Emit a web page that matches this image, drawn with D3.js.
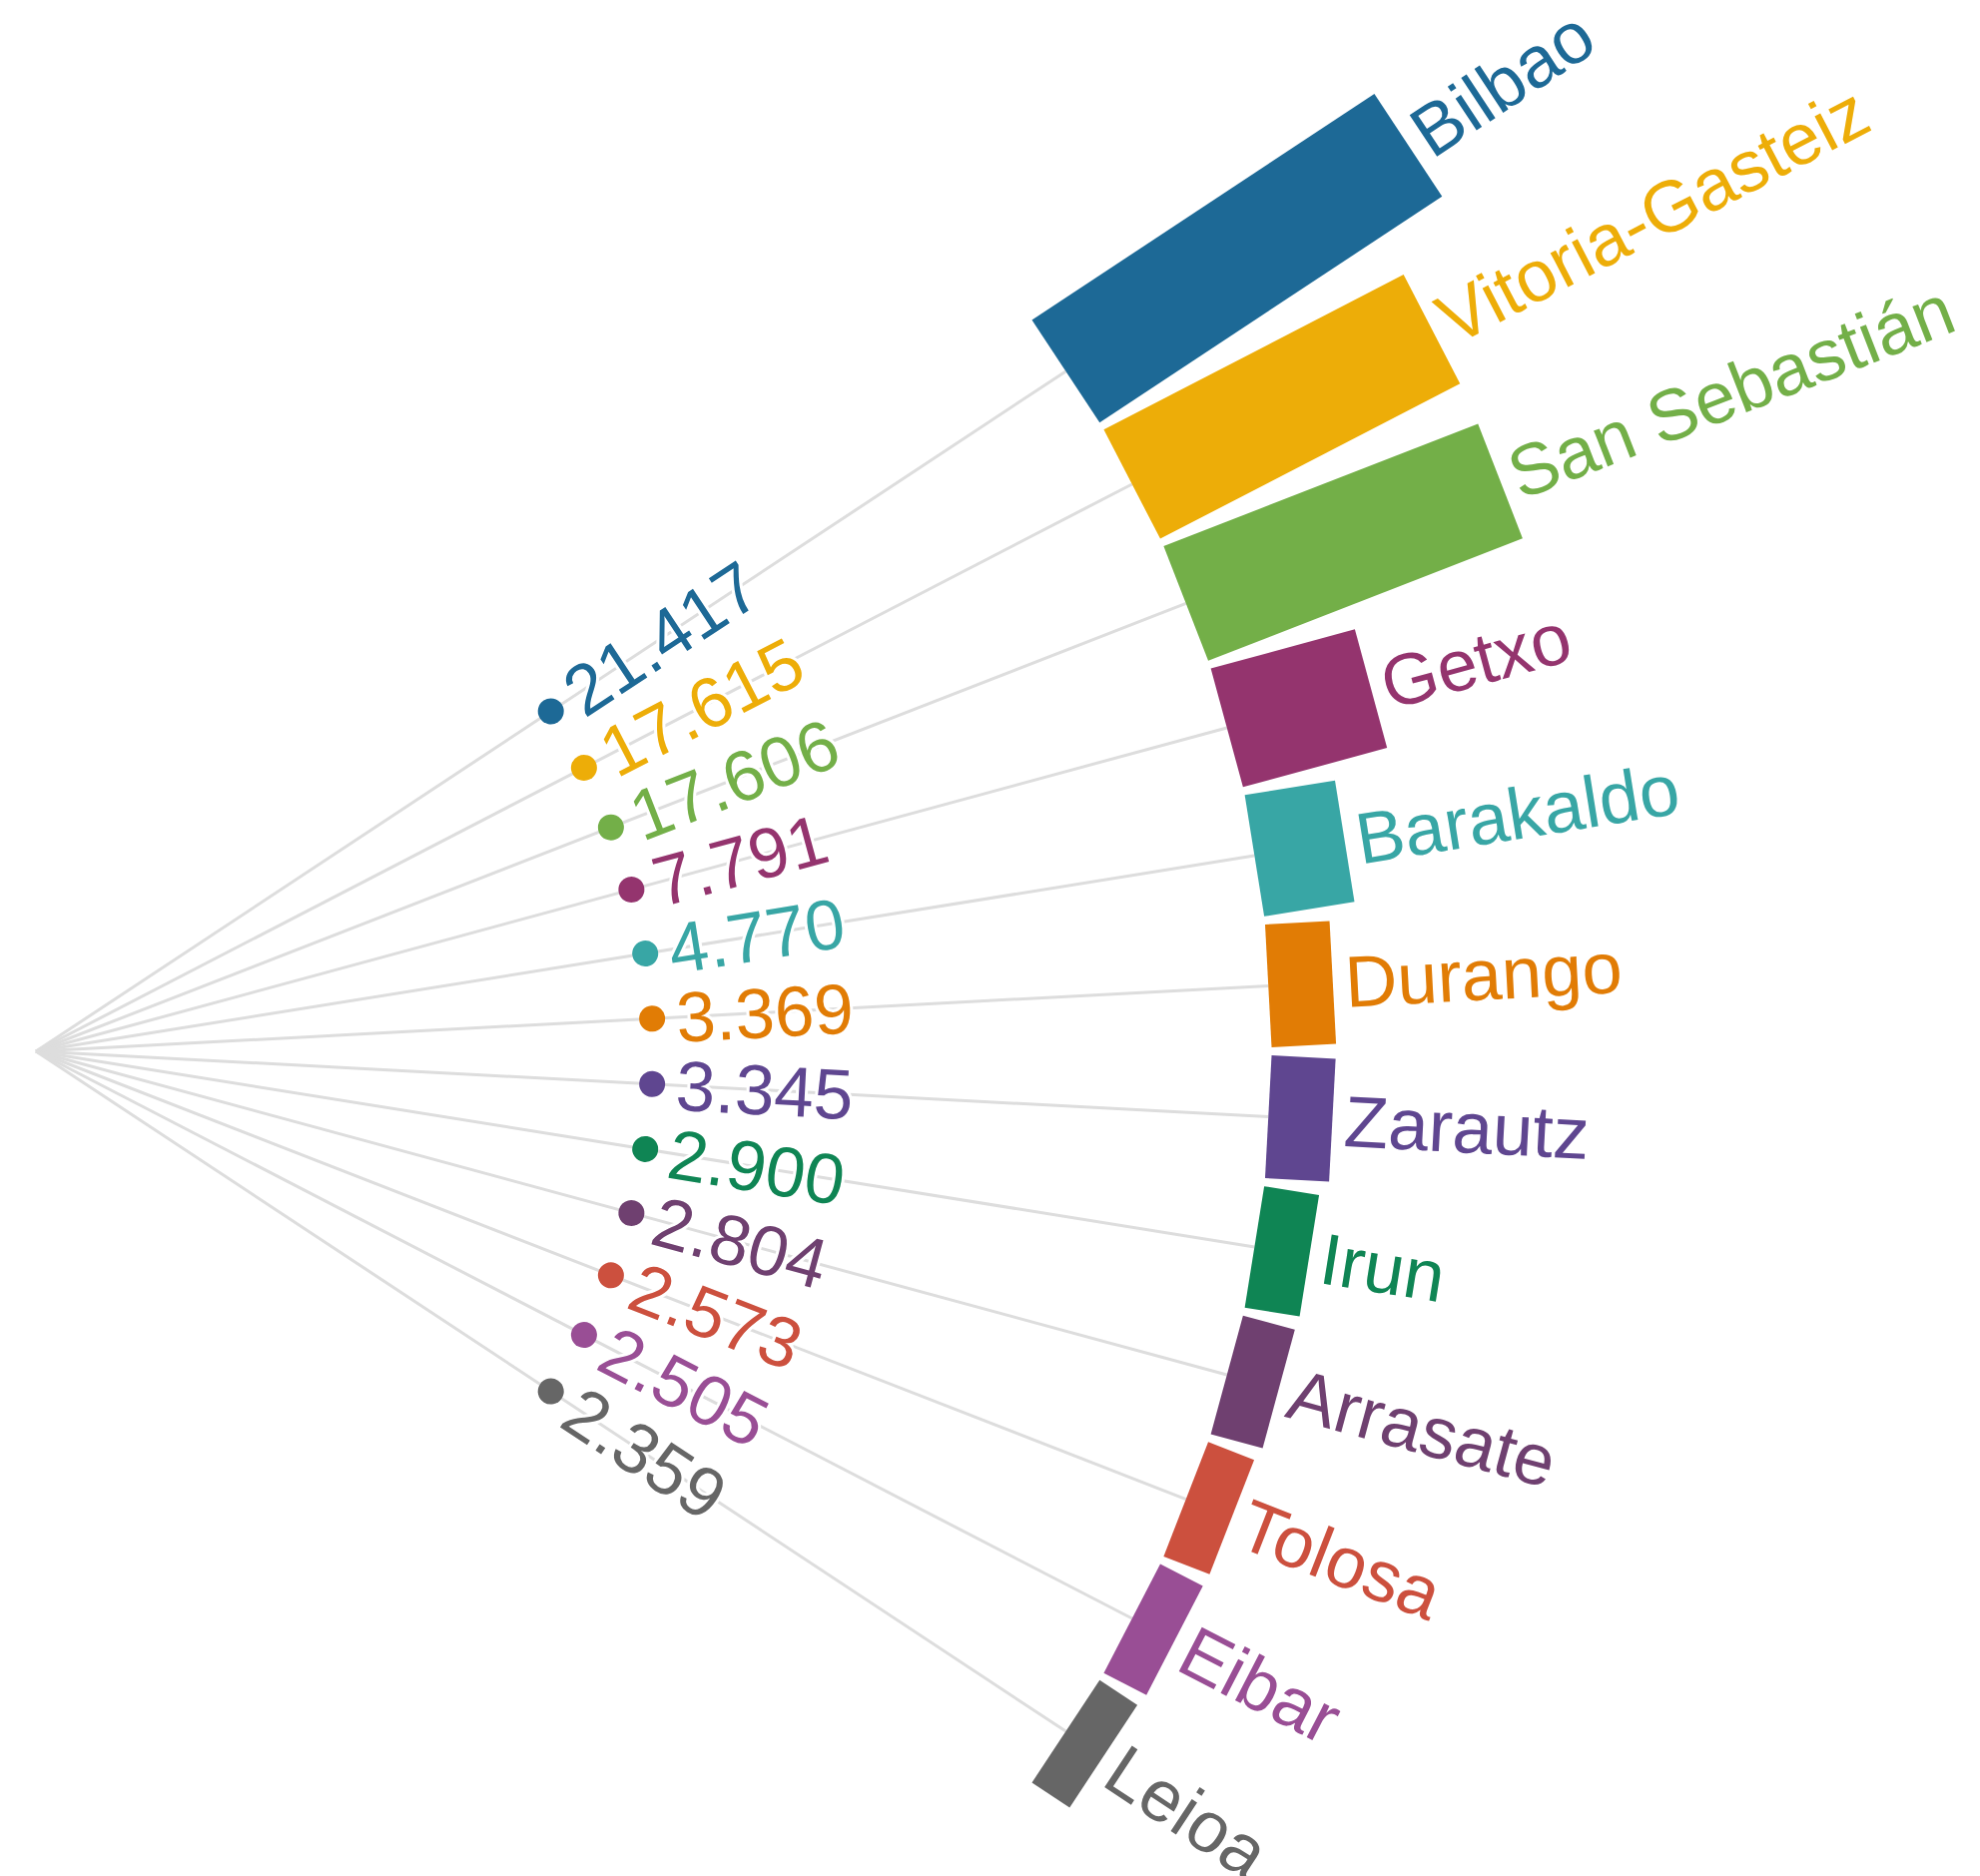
<!DOCTYPE html>
<html>
<head>
<meta charset="utf-8">
<script src="https://cdn.jsdelivr.net/npm/d3@7"></script>
<style>
  html, body { margin: 0; padding: 0; background: #fff; }
  svg { display: block; }
  text { font-family: "Liberation Sans", Arial, sans-serif; }
</style>
</head>
<body>
<svg id="chart" width="1983" height="1879"></svg>
<script>
const categories = ["Bilbao", "Vitoria-Gasteiz", "San Sebastián", "Getxo", "Barakaldo", "Durango",
                    "Zarautz", "Irun", "Arrasate", "Tolosa", "Eibar", "Leioa"];
const values = [21417, 17615, 17606, 7791, 4770, 3369, 3345, 2900, 2804, 2573, 2505, 2359];
const colors = ["#1D6996", "#EDAD08", "#73AF48", "#94346E", "#38A6A5", "#E17C05",
                "#5F4690", "#0F8554", "#6F4070", "#CC503E", "#994E95", "#666666"];

const W = 1983, H = 1879;
const cx = 36, cy = 1053;
const rInner = 1236;
const halfSpan = 36.48; // degrees

const data = categories.map((c, i) => ({ cat: c, value: values[i], color: colors[i] }));

const locale = d3.formatLocale({ decimal: ",", thousands: ".", grouping: [3], currency: ["", "€"] });
const fmt = locale.format(",");

const angle = d3.scaleBand()
  .domain(categories)
  .range([-halfSpan, halfSpan])
  .paddingInner(0.0625)
  .paddingOuter(0.03125);

const len = d3.scaleLinear().domain([0, d3.max(values)]).range([0, 411]);

const color = d3.scaleOrdinal().domain(categories).range(colors);

const bwRad = angle.bandwidth() * Math.PI / 180;
const barW = 2 * rInner * Math.tan(bwRad / 2);

const svg = d3.select("#chart");
svg.append("rect").attr("width", W).attr("height", H).attr("fill", "#fff");

const root = svg.append("g").attr("transform", `translate(${cx},${cy})`);

const mid = d => angle(d.cat) + angle.bandwidth() / 2;

// spokes
root.append("g").selectAll("line").data(data).join("line")
  .attr("transform", d => `rotate(${mid(d)})`)
  .attr("x1", 0).attr("y1", 0)
  .attr("x2", rInner).attr("y2", 0)
  .attr("stroke", "#dddddd")
  .attr("stroke-width", 3);

// bars
root.append("g").selectAll("rect").data(data).join("rect")
  .attr("transform", d => `rotate(${mid(d)})`)
  .attr("x", rInner)
  .attr("y", -barW / 2)
  .attr("width", d => len(d.value))
  .attr("height", barW)
  .attr("fill", d => color(d.cat));

// dots
root.append("g").selectAll("circle").data(data).join("circle")
  .attr("transform", d => `rotate(${mid(d)})`)
  .attr("cx", rInner / 2)
  .attr("cy", 0)
  .attr("r", 13)
  .attr("fill", d => color(d.cat));

// value labels
root.append("g").selectAll("text").data(data).join("text")
  .attr("transform", d => `rotate(${mid(d)})`)
  .attr("x", rInner / 2 + 24)
  .attr("y", 0)
  .attr("dy", "0.35em")
  .attr("font-size", 71)
  .attr("fill", d => color(d.cat))
  .attr("stroke", "#fff")
  .attr("stroke-width", 6)
  .attr("paint-order", "stroke")
  .attr("stroke-linejoin", "round")
  .text(d => fmt(d.value));

// category labels
root.append("g").selectAll("text").data(data).join("text")
  .attr("transform", d => `rotate(${mid(d)})`)
  .attr("x", d => rInner + len(d.value) + 12)
  .attr("y", 0)
  .attr("dy", "0.35em")
  .attr("font-size", 72.5)
  .attr("fill", d => color(d.cat))
  .text(d => d.cat);
</script>
</body>
</html>
